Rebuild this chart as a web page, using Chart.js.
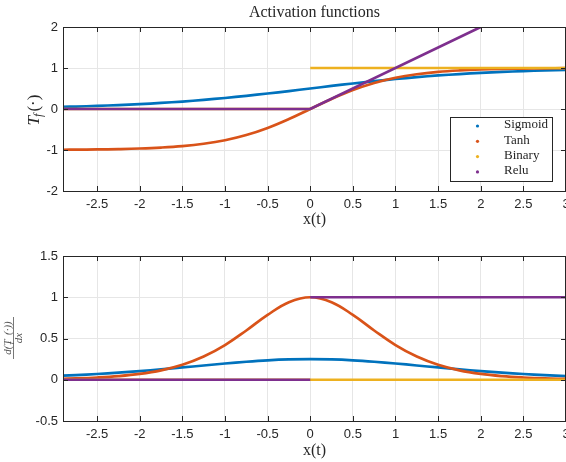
<!DOCTYPE html>
<html><head><meta charset="utf-8">
<script src="https://cdn.jsdelivr.net/npm/chart.js@4.4.0/dist/chart.umd.min.js"></script>
<style>
html,body{margin:0;padding:0;background:#fff;overflow:hidden}
#wrap{width:566px;height:462px;position:relative}
canvas{position:absolute;left:0}
</style></head><body>
<div id="wrap">
<canvas id="top" width="566" height="231" style="top:0"></canvas>
<canvas id="bot" width="566" height="231" style="top:231px"></canvas>
</div>
<script>
// tick labels
const xTicks=[-2.5,-2,-1.5,-1,-0.5,0,0.5,1,1.5,2,2.5,3];
const topYTicks=[-2,-1,0,1,2];
const botYTicks=[-0.5,0,0.5,1,1.5];
const names=['Sigmoid','Tanh','Binary','Relu'];
const colors=['#0072BD','#D95319','#EDB120','#7E2F8E'];

// sample positions for the smooth curves
const xs=[-2.9,-2.75,-2.5,-2.25,-2,-1.75,-1.5,-1.25,-1,-0.75,-0.5,-0.25,0,0.25,0.5,0.75,1,1.25,1.5,1.75,2,2.25,2.5,2.75,3];
// top: functions
const sigmoid=[0.052,0.060,0.076,0.095,0.119,0.148,0.182,0.223,0.269,0.321,0.378,0.438,0.500,0.562,0.622,0.679,0.731,0.777,0.818,0.852,0.881,0.905,0.924,0.940,0.953];
const tanh=[-0.994,-0.992,-0.987,-0.978,-0.964,-0.941,-0.905,-0.848,-0.762,-0.635,-0.462,-0.245,0,0.245,0.462,0.635,0.762,0.848,0.905,0.941,0.964,0.978,0.987,0.992,0.995];
const binaryX=[-2.9,0,0,0,3];
const binary=[0,0,null,1,1];
const reluX=[-2.9,0,2];
const relu=[0,0,2];
// bottom: derivatives
const dSigmoid=[0.050,0.057,0.070,0.086,0.105,0.126,0.149,0.173,0.197,0.218,0.235,0.246,0.250,0.246,0.235,0.218,0.197,0.173,0.149,0.126,0.105,0.086,0.070,0.057,0.045];
const dTanh=[0.012,0.016,0.027,0.044,0.071,0.114,0.181,0.281,0.420,0.597,0.786,0.940,1.000,0.940,0.786,0.597,0.420,0.281,0.181,0.114,0.071,0.044,0.027,0.016,0.010];
const dBinaryX=[-2.9,3];
const dBinary=[0,0];
const dReluX=[-2.9,0,0,0,3];
const dRelu=[0,0,null,1,1];

const INK='#262626';
const SANS='"Liberation Sans", Arial, sans-serif';
const SERIF='"Liberation Serif", "DejaVu Serif", serif';

const frame={id:'frame',afterDraw(c){
  const a=c.chartArea, g=c.ctx;
  g.save(); g.strokeStyle=INK; g.lineWidth=1;
  g.strokeRect(a.left+0.5,a.top+0.5,a.right-a.left-1,a.bottom-a.top);
  g.beginPath();
  c.scales.x.ticks.forEach(t=>{const p=Math.round(c.scales.x.getPixelForValue(t.value))+0.5;
    g.moveTo(p,a.bottom); g.lineTo(p,a.bottom-5); g.moveTo(p,a.top); g.lineTo(p,a.top+5);});
  c.scales.y.ticks.forEach(t=>{const p=Math.round(c.scales.y.getPixelForValue(t.value))+0.5;
    g.moveTo(a.left,p); g.lineTo(a.left+5,p); g.moveTo(a.right,p); g.lineTo(a.right-5,p);});
  g.stroke(); g.restore();
}};

const topText={id:'topText',afterDraw(c){
  const g=c.ctx, a=c.chartArea;
  g.save(); g.fillStyle=INK; g.textBaseline='middle';
  g.font='16px '+SERIF; g.textAlign='center';
  g.fillText('Activation functions',(a.left+a.right)/2,13);
  // y label T_f(·)
  g.translate(35,110); g.rotate(-Math.PI/2); g.textAlign='left';
  g.font='italic 17px '+SERIF; const wT=g.measureText('T').width;
  g.font='italic 12px '+SERIF; const wf=g.measureText('f').width;
  g.font='17px '+SERIF; const wp=g.measureText('(\u00b7)').width;
  let x0=-(wT+wf+wp+1)/2;
  g.font='italic 17px '+SERIF; g.fillText('T',x0,0);
  g.font='italic 12px '+SERIF; g.fillText('f',x0+wT-1,4);
  g.font='17px '+SERIF; g.fillText('(\u00b7)',x0+wT+wf+1,0);
  g.restore();
  // legend
  g.save();
  g.fillStyle='#fff'; g.fillRect(450,117,102,64);
  g.strokeStyle=INK; g.lineWidth=1; g.strokeRect(450.5,117.5,102,64);
  g.font='13px '+SERIF; g.textBaseline='middle'; g.textAlign='left';
  names.forEach((n,i)=>{const y=125+i*15.3;
    g.fillStyle=colors[i]; g.beginPath(); g.arc(477.5,y+1,1.6,0,Math.PI*2); g.fill();
    g.fillStyle=INK; g.fillText(n,504,y);});
  g.restore();
}};

const botText={id:'botText',afterDraw(c){
  const g=c.ctx;
  g.save(); g.fillStyle='#555'; g.strokeStyle='#555';
  g.translate(13,107); g.rotate(-Math.PI/2);
  g.textAlign='center'; g.textBaseline='alphabetic';
  g.font='italic 11px '+SERIF;
  g.fillText('d(T\u2009\u2009(\u00b7))',0,-2.5);
  g.font='italic 7px '+SERIF; g.fillText('f',-5,0);
  g.font='italic 11px '+SERIF; g.fillText('dx',0,9);
  g.lineWidth=0.8; g.beginPath(); g.moveTo(-21,0.5); g.lineTo(21,0.5); g.stroke();
  g.restore();
}};

function series(x,y,i,order,smooth){
  return {label:names[i],data:x.map((v,k)=>({x:v,y:y[k]})),borderColor:colors[i],backgroundColor:colors[i],
    borderWidth:2.7,pointRadius:0,fill:false,tension:smooth?0.4:0,spanGaps:false,order};
}

function build(id,datasets,yTicks,yMin,yMax,padTop,xH,plug){
  return new Chart(document.getElementById(id),{
    type:'line',
    data:{datasets},
    plugins:[frame,plug],
    options:{responsive:false,animation:false,devicePixelRatio:1,
      layout:{padding:{top:padTop,left:0,right:0,bottom:0}},
      plugins:{legend:{display:false},tooltip:{enabled:false}},
      scales:{
        x:{type:'linear',min:-2.9,max:3,
          afterBuildTicks:s=>{s.ticks=xTicks.map(v=>({value:v}));},
          afterFit:s=>{s.height=xH;s.paddingLeft=0;s.paddingRight=0;},
          ticks:{autoSkip:false,maxRotation:0,padding:6,color:INK,font:{family:SANS,size:13},callback:v=>String(v)},
          grid:{color:'#e6e6e6',drawTicks:false},border:{color:INK},
          title:{display:true,text:'x(t)',color:INK,font:{family:SERIF,size:16},padding:{top:0,bottom:2}}},
        y:{type:'linear',min:yMin,max:yMax,
          afterBuildTicks:s=>{s.ticks=yTicks.map(v=>({value:v}));},
          afterFit:s=>{s.width=63;s.paddingTop=0;s.paddingBottom=0;},
          ticks:{padding:5,color:INK,font:{family:SANS,size:13},callback:v=>String(v)},
          grid:{color:'#e6e6e6',drawTicks:false},border:{color:INK}}
      }}
  });
}

build('top',[
  series(xs,sigmoid,0,3,true),series(xs,tanh,1,2,true),series(binaryX,binary,2,1,false),series(reluX,relu,3,0,false)
],topYTicks,-2,2,27,40,topText);

build('bot',[
  series(xs,dSigmoid,0,3,true),series(xs,dTanh,1,2,true),series(dBinaryX,dBinary,2,1,false),series(dReluX,dRelu,3,0,false)
],botYTicks,-0.5,1.5,25,41,botText);
</script>
</body></html>
